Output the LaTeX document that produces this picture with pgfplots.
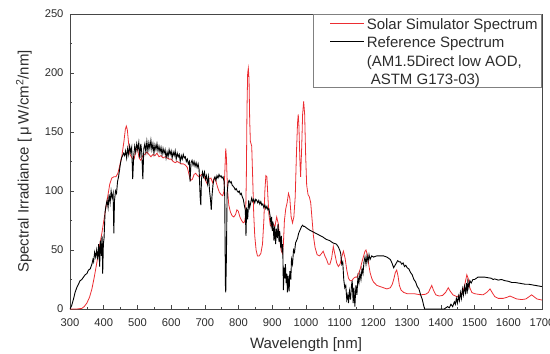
\documentclass[border=0pt]{standalone}
\usepackage{pgfplots}
\pgfplotsset{compat=1.18}
\usepackage{pgfplotstable}
\usepackage{fontspec}
\setmainfont{Liberation Sans}
\definecolor{simred}{RGB}{236,45,50}
\definecolor{axgray}{RGB}{70,70,70}
\definecolor{txtgray}{RGB}{45,45,45}

\pgfplotstableread{
x y
300 0
320 0
335 0.5
342 2
350 5
358 10
365 17
372 27
380 40
388 54
395 65
402 78
410 92
418 106
424 111
430 112
436 112
442 115
448 122
454 130
460 142
464 152
467 155
470 152
474 140
478 131
484 128
490 127
496 135
500 136
505 128
510 126
516 130
522 131
528 133
534 131
540 129
546 131
552 130
558 132
564 129
570 130
576 128
582 129
588 128
594 127
600 127
606 125
612 124
618 125
624 124
630 123
636 123
642 122
648 120
653 114
658 109
663 110
668 114
673 115
678 113
684 112
690 114
696 113
702 109
707 106
712 110
718 111
723 107
728 111
733 108
738 103
743 99
748 97
753 96
757 100
760 122
762 136
764 128
767 102
771 88
776 82
781 79
786 78
791 80
795 84
799 83
804 78
809 75
814 73
818 74
821 80
823 110
825 170
827 200
829 204
831 195
833 160
835 142
837 140
839 138
842 110
845 80
848 62
852 50
856 45
861 45
866 47
871 55
875 75
878 100
881 113
884 112
887 95
890 80
894 71
898 70
903 72
908 70
913 78
918 72
922 60
926 50
930 47
933 55
936 75
940 85
944 90
948 98
952 94
956 78
960 73
964 78
968 95
972 135
975 158
977 165
979 155
982 125
984 112
987 135
990 165
993 176
996 165
999 130
1002 105
1006 97
1010 95
1014 90
1018 76
1022 62
1027 52
1033 46
1040 45
1046 47
1051 49
1056 45
1061 42
1066 38
1071 38
1076 43
1081 53
1086 46
1091 39
1096 36
1101 38
1106 44
1111 49
1116 43
1121 33
1126 26
1131 24
1136 24
1141 26
1146 27
1151 27
1156 30
1161 34
1166 40
1171 45
1175 49
1178 50
1182 46
1186 38
1190 31
1195 26
1200 23
1210 20
1220 19
1230 18
1240 17
1250 18
1256 21
1261 26
1265 31
1269 33
1273 28
1277 20
1282 16
1290 14
1300 13
1320 13
1340 12
1355 12.5
1363 14
1368 17
1373 20
1378 16
1385 12
1395 11
1405 11.5
1414 14
1422 18
1428 15
1436 12
1447 10.5
1458 11.5
1466 15
1472 22
1477 29
1481 26
1486 18
1492 14
1500 13
1510 12.5
1525 12
1536 14
1546 17
1552 14
1560 10.5
1570 9
1585 9
1597 10
1605 11
1613 10
1625 8.5
1640 8
1652 8.5
1662 10.5
1669 12
1676 10.5
1685 8.5
1700 7.6
}\simtable

\pgfplotstableread{
x y
300 0
305 3
310 8
315 14
320 18
325 21
330 24
335 25
340 27
345 29
350 30
355 33
360 34
365 38
368 42
370 40
373 48
376 44
379 50
382 42
385 55
388 36
390 58
393 45
395 62
397 30
399 55
401 60
404 82
407 88
410 92
413 86
416 97
419 90
422 100
425 94
428 98
430 64
432 92
435 100
438 98
441 108
444 112
447 118
450 124
453 128
456 130
459 132
462 130
465 134
468 128
471 136
474 131
477 138
480 133
483 137
486 110
489 130
492 138
495 133
498 140
501 135
504 141
507 128
510 140
513 132
516 110
519 136
522 140
525 133
528 142
531 134
534 141
537 136
540 143
543 135
546 140
549 132
552 139
555 135
558 140
561 134
564 138
567 133
570 137
573 131
576 136
579 132
582 135
585 128
588 133
591 129
594 135
597 131
600 134
603 128
606 133
609 130
612 134
615 127
618 132
621 129
624 131
627 125
630 130
633 127
636 131
639 128
642 129
645 125
648 127
651 123
654 125
656 108
659 124
662 126
665 122
668 125
671 121
674 124
677 120
680 123
683 118
686 95
688 88
690 110
693 116
696 112
699 116
702 110
705 113
708 106
711 112
714 100
717 92
719 84
721 95
724 105
727 110
730 112
733 109
736 113
739 111
742 114
745 112
748 113
751 111
754 112
757 108
759 95
761 20
762 14
764 45
766 98
769 107
772 109
775 107
778 108
781 105
784 104
787 103
790 101
793 102
796 100
799 99
802 100
805 97
808 98
811 95
814 93
817 88
820 84
822 62
824 86
827 76
830 92
833 86
836 90
839 94
842 91
845 93
848 90
851 93
854 92
857 90
860 92
863 89
866 91
869 88
872 89
875 86
878 88
881 85
884 87
887 84
890 85
893 80
896 72
898 78
900 66
902 74
905 58
907 70
910 55
912 68
915 60
917 72
920 57
922 66
925 52
927 62
929 48
931 55
933 16
935 35
937 26
939 38
941 22
943 30
945 14
947 28
950 15
952 32
955 25
957 42
960 38
963 50
966 48
969 56
972 58
975 60
978 64
981 66
984 68
987 70
990 71
993 70
996 70
1000 69
1010 67
1020 65.5
1030 64
1040 62.5
1050 61
1060 59
1070 58
1080 56
1090 55
1095 53
1100 50
1103 47
1106 38
1109 40
1112 25
1115 18
1118 20
1121 8
1124 12
1126 5
1129 15
1132 8
1135 20
1137 24
1140 5
1142 18
1145 2
1148 20
1151 12
1154 27
1157 22
1160 30
1163 25
1166 34
1169 30
1172 40
1175 44
1178 38
1181 45
1184 40
1187 46
1190 42
1195 45
1200 44
1210 45
1220 45
1230 45
1240 44
1250 42
1255 39
1260 35
1264 37
1268 39
1272 41
1276 40
1280 40
1284 38
1288 39
1292 36
1296 37
1300 35
1305 34
1310 31
1315 29
1320 25
1325 23
1330 19
1335 17
1340 12
1345 8
1349 3
1352 0
1410 0
1415 1
1420 2
1425 1
1430 4
1435 2
1440 6
1443 4
1446 9
1449 5
1452 11
1455 7
1458 14
1461 9
1464 17
1467 12
1470 19
1473 14
1476 22
1478 13
1480 23
1483 18
1486 24
1490 22
1495 25
1500 25
1505 26
1510 27
1515 27
1520 27
1530 27
1540 26.5
1550 26
1555 25
1560 25.5
1570 24.5
1580 25
1590 24
1600 23.5
1610 22.5
1620 22.5
1630 22
1640 21.5
1650 21
1660 21
1670 20.5
1680 20
1690 19.5
1700 19
}\reftable

\begin{document}
\begin{tikzpicture}[x=1pt,y=1pt]
\path[use as bounding box] (0,0) rectangle (550,354);
\begin{axis}[
  at={(70pt,45pt)}, anchor=south west,
  scale only axis, width=472pt, height=295pt,
  xmin=300, xmax=1700, ymin=0, ymax=250,
  xtick={300,400,...,1700}, ytick={0,50,...,250},
  minor x tick num=1, minor y tick num=1,
  tick align=inside, xtick pos=bottom, ytick pos=left,
  major tick length=4pt, minor tick length=2.5pt,
  axis line style={axgray, line width=0.8pt},
  every tick/.style={axgray, line width=0.7pt},
  /pgf/number format/assume math mode=true,
  /pgf/number format/1000 sep={},
  tick label style={font=\fontsize{11.2}{13}\selectfont, text=txtgray},
  xticklabel style={yshift=-6pt},
  yticklabel style={xshift=-3pt},
  label style={font=\fontsize{15}{17}\selectfont, text=txtgray},
  xlabel={Wavelength [nm]},
  xlabel style={at={(axis description cs:0.5,0)}, anchor=base, yshift=-39pt},
  ylabel={Spectral Irradiance [\hspace{3pt}μ\hspace{3pt}W/cm\textsuperscript{2}/nm]},
  ylabel style={at={(axis description cs:0,0.5)}, anchor=center, yshift=46pt},
  legend style={at={(rel axis cs:1,1)}, anchor=north east, draw=gray, fill=white,
    line width=0.6pt, font=\fontsize{15}{18}\selectfont, text=txtgray,
    inner xsep=2pt, inner ysep=0pt, row sep=0pt,
    nodes={text height=14.8pt, text depth=2.5pt, inner ysep=0.5pt},
    cells={anchor=west},
    /tikz/every even column/.append style={column sep=4pt}},
  legend image code/.code={\draw[#1] (15pt,0pt) -- (49pt,0pt);},
  legend cell align=left,
]
\addplot[simred, line width=0.8pt] table[x=x,y=y] {\simtable};
\addlegendentry{Solar Simulator Spectrum}
\addplot[black, line width=0.9pt] table[x=x,y=y] {\reftable};
\addlegendentry{Reference Spectrum}
\addlegendimage{empty legend}
\addlegendentry{(AM1.5Direct low AOD,}
\addlegendimage{empty legend}
\addlegendentry{\hspace{4pt}ASTM G173-03)}
\end{axis}
\end{tikzpicture}
\end{document}
